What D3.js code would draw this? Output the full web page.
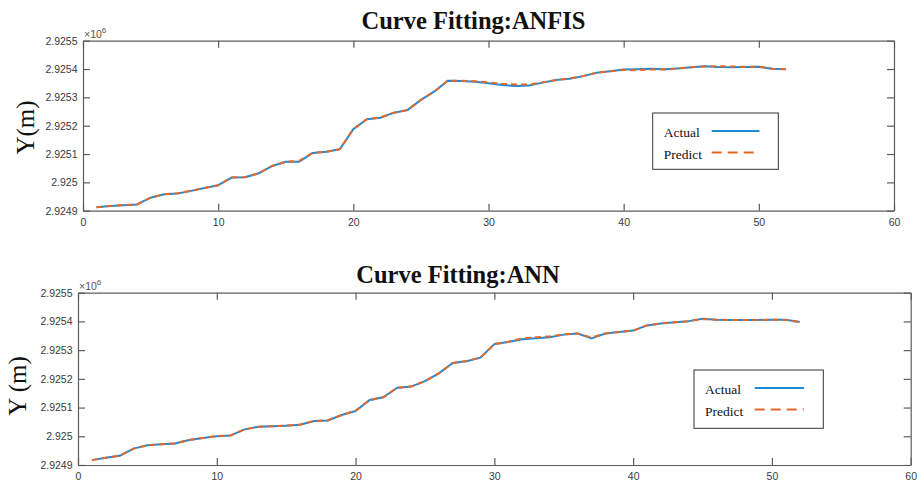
<!DOCTYPE html>
<html>
<head>
<meta charset="utf-8">
<script src="https://cdn.jsdelivr.net/npm/d3@7"></script>
<style>
  html, body { margin: 0; padding: 0; background: #ffffff; }
  svg { display: block; }
</style>
</head>
<body>
<svg id="chart" width="919" height="482"></svg>
<script>
// Sample index along the track
const sampleIndex = [1, 2, 3, 4, 5, 6, 7, 8, 9, 10, 11, 12, 13, 14, 15, 16, 17, 18, 19, 20,
  21, 22, 23, 24, 25, 26, 27, 28, 29, 30, 31, 32, 33, 34, 35, 36, 37, 38, 39, 40,
  41, 42, 43, 44, 45, 46, 47, 48, 49, 50, 51, 52];

// Y coordinate in units of 10^6 m
const anfisActual = [2.924912, 2.924917, 2.924919, 2.924922, 2.924946, 2.924958, 2.924961, 2.924970, 2.924980, 2.924990,
  2.925017, 2.925018, 2.925032, 2.925058, 2.925073, 2.925073, 2.925104, 2.925108, 2.925117, 2.925188,
  2.925223, 2.925228, 2.925246, 2.925255, 2.925291, 2.925321, 2.925359, 2.925358, 2.925355, 2.925350,
  2.925344, 2.925340, 2.925342, 2.925352, 2.925361, 2.925366, 2.925375, 2.925387, 2.925392, 2.925398,
  2.925399, 2.925401, 2.925399, 2.925402, 2.925406, 2.925410, 2.925407, 2.925406, 2.925407, 2.925408,
  2.925401, 2.925399];
const anfisPredict = [2.924912, 2.924917, 2.924920, 2.924922, 2.924946, 2.924958, 2.924962, 2.924970, 2.924980, 2.924990,
  2.925017, 2.925019, 2.925032, 2.925058, 2.925073, 2.925076, 2.925104, 2.925108, 2.925117, 2.925188,
  2.925223, 2.925229, 2.925246, 2.925255, 2.925291, 2.925321, 2.925359, 2.925359, 2.925357, 2.925353,
  2.925348, 2.925345, 2.925345, 2.925353, 2.925361, 2.925367, 2.925375, 2.925387, 2.925392, 2.925397,
  2.925396, 2.925398, 2.925398, 2.925402, 2.925406, 2.925409, 2.925410, 2.925409, 2.925408, 2.925408,
  2.925401, 2.925399];

const annActual = [2.924917, 2.924925, 2.924932, 2.924957, 2.924969, 2.924972, 2.924975, 2.924987, 2.924994, 2.925000,
  2.925003, 2.925024, 2.925033, 2.925035, 2.925037, 2.925040, 2.925053, 2.925055, 2.925074, 2.925088,
  2.925126, 2.925136, 2.925169, 2.925173, 2.925192, 2.925219, 2.925255, 2.925261, 2.925274, 2.925321,
  2.925328, 2.925338, 2.925341, 2.925345, 2.925354, 2.925358, 2.925341, 2.925358, 2.925363, 2.925368,
  2.925386, 2.925393, 2.925397, 2.925401, 2.925409, 2.925406, 2.925405, 2.925405, 2.925405, 2.925406,
  2.925406, 2.925398];
const annPredict = [2.924917, 2.924925, 2.924932, 2.924957, 2.924969, 2.924972, 2.924976, 2.924987, 2.924994, 2.925001,
  2.925003, 2.925024, 2.925033, 2.925035, 2.925037, 2.925041, 2.925053, 2.925056, 2.925074, 2.925089,
  2.925126, 2.925136, 2.925169, 2.925173, 2.925192, 2.925219, 2.925255, 2.925262, 2.925274, 2.925321,
  2.925329, 2.925341, 2.925345, 2.925348, 2.925355, 2.925358, 2.925344, 2.925358, 2.925363, 2.925368,
  2.925386, 2.925393, 2.925397, 2.925401, 2.925408, 2.925406, 2.925405, 2.925405, 2.925405, 2.925406,
  2.925405, 2.925398];

const xTicks = [0, 10, 20, 30, 40, 50, 60];
const xTickLabels = ["0", "10", "20", "30", "40", "50", "60"];
const yTicks = [2.9249, 2.9250, 2.9251, 2.9252, 2.9253, 2.9254, 2.9255];
const yTickLabels = ["2.9249", "2.925", "2.9251", "2.9252", "2.9253", "2.9254", "2.9255"];
const seriesNames = ["Actual", "Predict"];
const panelTitles = ["Curve Fitting:ANFIS", "Curve Fitting:ANN"];
const yAxisTitles = ["Y(m)", "Y (m)"];

// Layout of the two stacked panels
const panels = [
  {
    title: panelTitles[0], yTitle: yAxisTitles[0], actual: anfisActual, predict: anfisPredict,
    left: 83, right: 894, top: 40.7, bottom: 210.7,
    titleX: 473.5, titleY: 29.3, yTitleX: 33.5, yTitleY: 127.5,
    legend: { x: 652.7, y: 113, w: 125.6, h: 56.3 }
  },
  {
    title: panelTitles[1], yTitle: yAxisTitles[1], actual: annActual, predict: annPredict,
    left: 78, right: 910.7, top: 292.7, bottom: 465,
    titleX: 458, titleY: 283.3, yTitleX: 26, yTitleY: 386,
    legend: { x: 694, y: 370, w: 129.3, h: 58.3 }
  }
];

const blue = "#1f8ad6";
const orange = "#e2692a";
const axisColor = "#5c5c5c";
const labelColor = "#3a3a3a";
const tickLen = 7;

const svg = d3.select("#chart");

panels.forEach(p => {
  const x = d3.scaleLinear().domain([0, 60]).range([p.left, p.right]);
  const y = d3.scaleLinear().domain([2.9249, 2.9255]).range([p.bottom, p.top]);
  const g = svg.append("g");

  // Title
  g.append("text")
    .attr("x", p.titleX).attr("y", p.titleY)
    .attr("text-anchor", "middle")
    .attr("font-family", "'Liberation Serif', 'Times New Roman', serif")
    .attr("font-weight", "bold")
    .attr("font-size", 24.5)
    .attr("fill", "#111")
    .text(p.title);

  // Y axis title
  g.append("text")
    .attr("transform", `translate(${p.yTitleX},${p.yTitleY}) rotate(-90)`)
    .attr("text-anchor", "middle")
    .attr("font-family", "'Liberation Serif', 'Times New Roman', serif")
    .attr("font-size", 25)
    .attr("fill", "#111")
    .text(p.yTitle);

  // Axes with inward ticks; domain paths form the box
  const styleAxis = sel => {
    sel.selectAll(".domain").attr("stroke", axisColor).attr("stroke-width", 1.2);
    sel.selectAll(".tick line").attr("stroke", axisColor).attr("stroke-width", 1.2);
    sel.selectAll(".tick text")
      .attr("fill", labelColor)
      .attr("font-family", "'Liberation Sans', Arial, sans-serif")
      .attr("font-size", 10.5);
  };

  g.append("g")
    .attr("transform", `translate(0,${p.bottom})`)
    .call(d3.axisBottom(x).tickValues(xTicks).tickSizeInner(-tickLen).tickSizeOuter(0)
      .tickPadding(8).tickFormat((d, i) => xTickLabels[i]))
    .call(styleAxis);

  g.append("g")
    .attr("transform", `translate(0,${p.top})`)
    .call(d3.axisTop(x).tickValues(xTicks).tickSizeInner(-tickLen).tickSizeOuter(0).tickFormat(""))
    .call(styleAxis);

  g.append("g")
    .attr("transform", `translate(${p.left},0)`)
    .call(d3.axisLeft(y).tickValues(yTicks).tickSizeInner(-tickLen).tickSizeOuter(0)
      .tickPadding(5.5).tickFormat((d, i) => yTickLabels[i]))
    .call(styleAxis);

  g.append("g")
    .attr("transform", `translate(${p.right},0)`)
    .call(d3.axisRight(y).tickValues(yTicks).tickSizeInner(-tickLen).tickSizeOuter(0).tickFormat(""))
    .call(styleAxis);

  // Exponent note above the y axis
  const expo = g.append("text")
    .attr("x", p.left + 1).attr("y", p.top - 3)
    .attr("font-family", "'Liberation Sans', Arial, sans-serif")
    .attr("font-size", 10.5)
    .attr("fill", "#555");
  expo.append("tspan").text("\u00d710");
  expo.append("tspan").attr("dy", -4.5).attr("font-size", 8).text("6");

  // Series
  const line = d3.line()
    .x((d, i) => x(sampleIndex[i]))
    .y(d => y(d));

  g.append("path")
    .datum(p.actual)
    .attr("fill", "none")
    .attr("stroke", blue)
    .attr("stroke-width", 2)
    .attr("stroke-linejoin", "round")
    .attr("d", line);

  g.append("path")
    .datum(p.predict)
    .attr("fill", "none")
    .attr("stroke", orange)
    .attr("stroke-width", 2)
    .attr("stroke-dasharray", "6,4")
    .attr("d", line);

  // Legend
  const L = p.legend;
  const lg = g.append("g");
  lg.append("rect")
    .attr("x", L.x).attr("y", L.y).attr("width", L.w).attr("height", L.h)
    .attr("fill", "#fff").attr("stroke", "#333").attr("stroke-width", 1);

  const rows = [
    { name: seriesNames[0], color: blue, dash: null },
    { name: seriesNames[1], color: orange, dash: "10,6" }
  ];
  rows.forEach((r, i) => {
    const cy = L.y + 18 + i * 21.5;
    lg.append("text")
      .attr("x", L.x + 11).attr("y", cy + 6)
      .attr("font-family", "'Liberation Serif', 'Times New Roman', serif")
      .attr("font-size", 13.5)
      .attr("fill", "#111")
      .text(r.name);
    lg.append("line")
      .attr("x1", L.x + L.w * 0.47).attr("x2", L.x + L.w * 0.85)
      .attr("y1", cy).attr("y2", cy)
      .attr("stroke", r.color).attr("stroke-width", 2)
      .attr("stroke-dasharray", r.dash);
  });
});
</script>
</body>
</html>
